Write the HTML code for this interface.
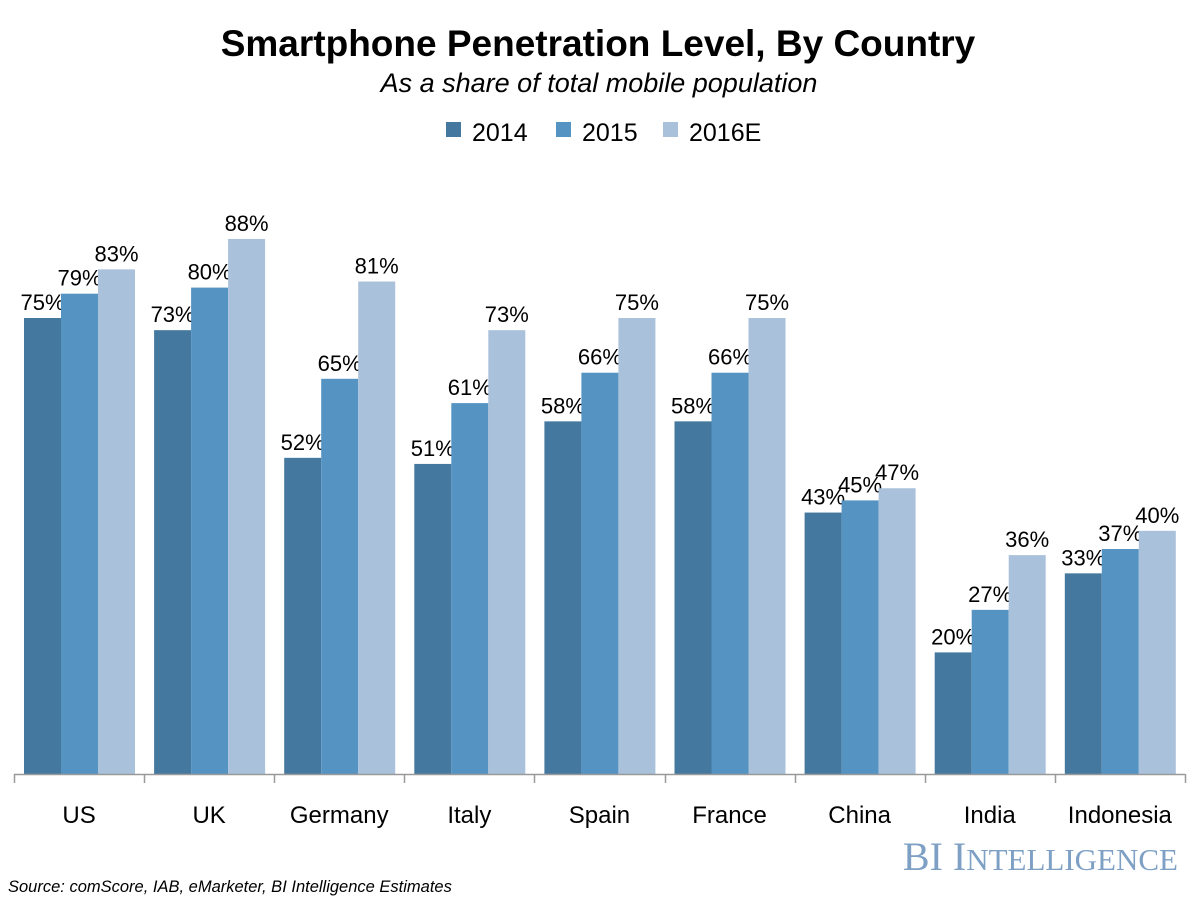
<!DOCTYPE html>
<html><head><meta charset="utf-8"><style>
body{margin:0;background:#fff;}
svg{display:block;font-family:"Liberation Sans",sans-serif;}
</style></head><body>
<svg id="chart" width="1200" height="900">
<text x="598" y="56" text-anchor="middle" font-size="37" font-weight="bold" fill="#000">Smartphone Penetration Level, By Country</text>
<text x="599" y="92" text-anchor="middle" font-size="27" font-style="italic" fill="#000">As a share of total mobile population</text>
<g>
<g><rect x="446" y="122" width="15" height="15" fill="#44789e"/><text x="472" y="141" font-size="25">2014</text></g>
<g><rect x="556" y="122" width="15" height="15" fill="#5593c3"/><text x="582" y="141" font-size="25">2015</text></g>
<g><rect x="663" y="122" width="15" height="15" fill="#a9c1da"/><text x="689" y="141" font-size="25">2016E</text></g>
</g>
<g id="bars"></g>
<text x="1178" y="870" text-anchor="end" font-family="Liberation Serif,serif" font-size="40" fill="#7da0c4">BI I<tspan font-size="31">NTELLIGENCE</tspan></text>
<text x="8" y="892" font-size="16.5" font-style="italic" fill="#000">Source: comScore, IAB, eMarketer, BI Intelligence Estimates</text>
</svg>
<script>
const categories=["US","UK","Germany","Italy","Spain","France","China","India","Indonesia"];
const s2014=[75,73,52,51,58,58,43,20,33];
const s2015=[79,80,65,61,66,66,45,27,37];
const s2016=[83,88,81,73,75,75,47,36,40];
const seriesNames=["2014","2015","2016e"];
const colors=["#44789e","#5593c3","#a9c1da"];
const NS="http://www.w3.org/2000/svg";
const g=document.getElementById('bars');
const x0=14,catW=130.1,baseY=774,pxPer=6.08,barW=37,pad=10;
const y=v=>baseY-v*pxPer;
const xb=(i,s)=>x0+i*catW+pad+s*barW;
[s2014,s2015,s2016].forEach((arr,s)=>{
 arr.forEach((v,i)=>{
  const r=document.createElementNS(NS,'rect');
  r.setAttribute('x',xb(i,s));r.setAttribute('y',y(v));
  r.setAttribute('width',barW);r.setAttribute('height',baseY-y(v));
  r.setAttribute('fill',colors[s]);
  
  
  g.appendChild(r);
  const t=document.createElementNS(NS,'text');
  t.setAttribute('x',xb(i,s)+barW/2);t.setAttribute('y',y(v)-8);
  t.setAttribute('text-anchor','middle');t.setAttribute('font-size','22');
  t.textContent=v+'%';
  
  
  g.appendChild(t);
 });
});
const ax=document.createElementNS(NS,'line');
ax.setAttribute('x1',x0);ax.setAttribute('x2',x0+9*catW);ax.setAttribute('y1',baseY+0.5);ax.setAttribute('y2',baseY+0.5);
ax.setAttribute('stroke','#999');ax.setAttribute('stroke-width','1.5');


g.appendChild(ax);
for(let i=0;i<=9;i++){
 const tk=document.createElementNS(NS,'line');
 const tx=Math.round(x0+i*catW)+0.5;
 tk.setAttribute('x1',tx);tk.setAttribute('x2',tx);tk.setAttribute('y1',baseY);tk.setAttribute('y2',baseY+9);
 tk.setAttribute('stroke','#999');tk.setAttribute('stroke-width','1.5');
 
 
 g.appendChild(tk);
}
categories.forEach((c,i)=>{
 const t=document.createElementNS(NS,'text');
 t.setAttribute('x',x0+i*catW+catW/2);t.setAttribute('y',823);
 t.setAttribute('text-anchor','middle');t.setAttribute('font-size','24');
 t.textContent=c;
 
 
 g.appendChild(t);
});
</script>
</body></html>
